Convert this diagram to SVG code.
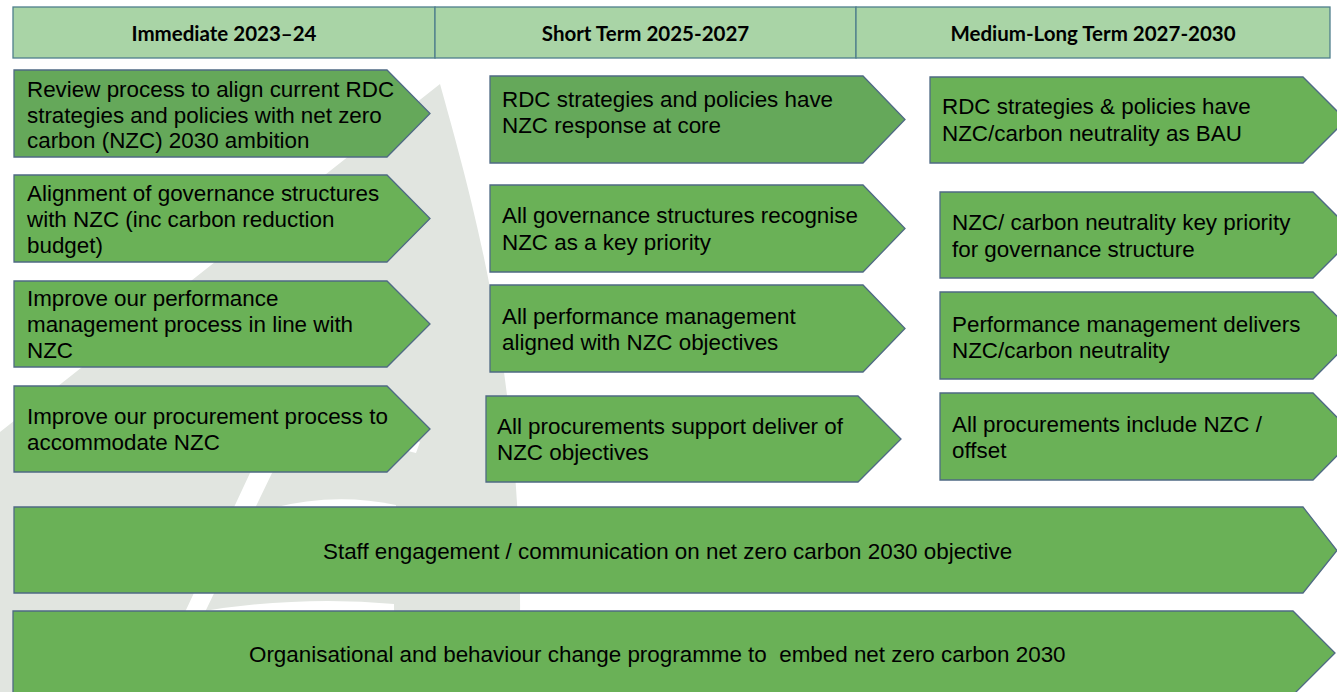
<svg xmlns="http://www.w3.org/2000/svg" width="1337" height="692" viewBox="0 0 1337 692">
<style>
.hdr{fill:#a9d4a6;stroke:#4f7f8c;stroke-width:1.3}
.ht{font-family:Lato,"Open Sans",sans-serif;font-weight:700;font-size:20.5px;text-anchor:middle;fill:#000}
.chev{fill:#6ab157;stroke:#4f6a84;stroke-width:1.3}
.dark{fill:#65a85a}
.t{font-family:"Liberation Sans",Arial,sans-serif;font-size:22.4px;fill:#000}
.bg{fill:#e1e5e0}
</style>
<rect width="1337" height="692" fill="#ffffff"/>
<g id="watermark">
<path class="bg" d="M440,84 C472,200 532,400 518,692 L0,692 L0,432 Z"/>
<path fill="#ffffff" d="M146,692 L186,610 L250,473 C292,420 362,418 420,442 L416,453 C360,438 302,440 272,473 L206,610 L168,692 Z"/>
<path fill="#ffffff" d="M272,508 Q335,492 396,505 L396,508 Z"/>
<path fill="#ffffff" d="M198,612 Q300,595 394,604 L394,612 Z"/>
</g>
<g id="headers">
<g id="hdr-immediate"><rect class="hdr" x="13" y="7" width="422" height="51"/><text class="ht" x="224" y="40.5">Immediate 2023–24</text></g>
<g id="hdr-short"><rect class="hdr" x="435" y="7" width="421" height="51"/><text class="ht" x="645.5" y="40.5">Short Term 2025-2027</text></g>
<g id="hdr-medium"><rect class="hdr" x="856" y="7" width="474" height="51"/><text class="ht" x="1093" y="40.5">Medium-Long Term 2027-2030</text></g>
</g>
<g id="connectors"/>
<g id="col1-r1"><polygon class="chev dark" points="14,70 387,70 430,113.5 387,157 14,157"/>
<text class="t"><tspan x="27" y="97">Review process to align current RDC</tspan><tspan x="27" y="122.5">strategies and policies with net zero</tspan><tspan x="27" y="148">carbon (NZC) 2030 ambition</tspan></text></g>
<g id="col1-r2"><polygon class="chev" points="14,175 387,175 430,218.5 387,262 14,262"/>
<text class="t"><tspan x="27" y="201">Alignment of governance structures</tspan><tspan x="27" y="227">with NZC (inc carbon reduction</tspan><tspan x="27" y="253">budget)</tspan></text></g>
<g id="col1-r3"><polygon class="chev" points="14,281 387,281 430,324 387,367 14,367"/>
<text class="t"><tspan x="27" y="306">Improve our performance</tspan><tspan x="27" y="332">management process in line with</tspan><tspan x="27" y="358">NZC</tspan></text></g>
<g id="col1-r4"><polygon class="chev" points="14,386 387,386 430,429 387,472 14,472"/>
<text class="t"><tspan x="27" y="424">Improve our procurement process to</tspan><tspan x="27" y="450">accommodate NZC</tspan></text></g>
<g id="col2-r1"><polygon class="chev dark" points="490,76 863,76 905,119.5 863,163 490,163"/>
<text class="t"><tspan x="502" y="107">RDC strategies and policies have</tspan><tspan x="502" y="133">NZC response at core</tspan></text></g>
<g id="col2-r2"><polygon class="chev" points="490,185 863,185 905,228.5 863,272 490,272"/>
<text class="t"><tspan x="502" y="223">All governance structures recognise</tspan><tspan x="502" y="250">NZC as a key priority</tspan></text></g>
<g id="col2-r3"><polygon class="chev" points="490,285 863,285 905,328.5 863,372 490,372"/>
<text class="t"><tspan x="502" y="324">All performance management</tspan><tspan x="502" y="350">aligned with NZC objectives</tspan></text></g>
<g id="col2-r4"><polygon class="chev" points="486,396 858,396 901,439 858,482 486,482"/>
<text class="t"><tspan x="497" y="434">All procurements support deliver of</tspan><tspan x="497" y="460">NZC objectives</tspan></text></g>
<g id="col3-r1"><polygon class="chev" points="930,77 1303,77 1346,120 1303,163 930,163"/>
<text class="t"><tspan x="942" y="114">RDC strategies &amp; policies have</tspan><tspan x="942" y="140.5">NZC/carbon neutrality as BAU</tspan></text></g>
<g id="col3-r2"><polygon class="chev" points="940,192 1313,192 1356,235 1313,278 940,278"/>
<text class="t"><tspan x="952" y="230">NZC/ carbon neutrality key priority</tspan><tspan x="952" y="257">for governance structure</tspan></text></g>
<g id="col3-r3"><polygon class="chev" points="940,292 1313,292 1356,335.5 1313,379 940,379"/>
<text class="t"><tspan x="952" y="332">Performance management delivers</tspan><tspan x="952" y="358">NZC/carbon neutrality</tspan></text></g>
<g id="col3-r4"><polygon class="chev" points="940,393 1313,393 1356,436.5 1313,480 940,480"/>
<text class="t"><tspan x="952" y="432">All procurements include NZC /</tspan><tspan x="952" y="458">offset</tspan></text></g>
<g id="bar-staff"><polygon class="chev" points="14,507 1303,507 1337,550.5 1303,593 14,593"/>
<text class="t" x="323" y="559">Staff engagement / communication on net zero carbon 2030 objective</text></g>
<g id="bar-org"><polygon class="chev" points="13,611 1293,611 1335,653 1293,695 13,695"/>
<text class="t" x="249" y="662" xml:space="preserve">Organisational and behaviour change programme to  embed net zero carbon 2030</text></g>
</svg>
